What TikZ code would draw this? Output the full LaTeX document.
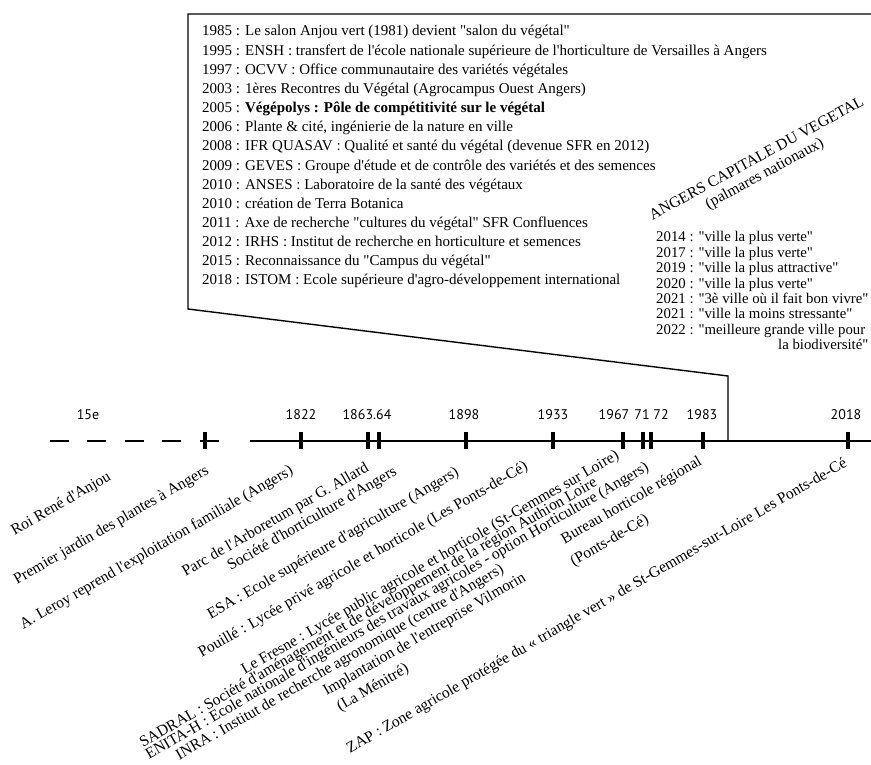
\documentclass[tikz,border=0pt]{standalone}
\usepackage{fontspec}
\setmainfont{Liberation Serif}[Ligatures=TeXOff]
\newfontfamily\yearfont{PT Sans}
\usetikzlibrary{positioning}

\begin{document}
\begin{tikzpicture}[x=1pt, y=-1pt,
    every node/.style = {inner sep=0pt},
    fact/.style = {rotate=30, anchor=east, font=\fontsize{15.6}{18}\selectfont},
    year/.style = {font=\yearfont\fontsize{14}{16}\selectfont},
    tick/.style = {line width=3.5pt},
    frame/.style = {line width=1.4pt}]
  \useasboundingbox (0,0) rectangle (871,765);

  % box of the recent events
  \draw[frame] (871,14) -- (188,14) -- (188,309) -- (728,376) -- (728,441);
  \node[anchor=base west] (events) at (202,36) {\fontsize{15}{19.15}\selectfont
    \begin{tabular}[t]{@{}l@{}}
    1985 : Le salon Anjou vert (1981) devient "salon du végétal"\\
    1995 : ENSH : transfert de l'école nationale supérieure de l'horticulture de Versailles à Angers\\
    1997 : OCVV : Office communautaire des variétés végétales\\
    2003 : 1ères Recontres du Végétal (Agrocampus Ouest Angers)\\
    2005 : \textbf{Végépolys : Pôle de compétitivité sur le végétal}\\
    2006 : Plante \& cité, ingénierie de la nature en ville\\
    2008 : IFR QUASAV : Qualité et santé du végétal (devenue SFR en 2012)\\
    2009 : GEVES : Groupe d'étude et de contrôle des variétés et des semences\\
    2010 : ANSES : Laboratoire de la santé des végétaux\\
    2010 : création de Terra Botanica\\
    2011 : Axe de recherche "cultures du végétal" SFR Confluences\\
    2012 : IRHS : Institut de recherche en horticulture et semences\\
    2015 : Reconnaissance du "Campus du végétal"\\
    2018 : ISTOM : Ecole supérieure d'agro-développement international
    \end{tabular}};

  % palmares
  \node[rotate=28.5, align=center, font=\fontsize{15.6}{17}\selectfont] (capitale) at (761,167)
    {ANGERS CAPITALE DU VEGETAL\\(palmares nationaux)};
  \node[anchor=base west] (palmares) at (656,242) {\fontsize{14.8}{15.4}\selectfont
    \begin{tabular}[t]{@{}l@{}}
    2014 : "ville la plus verte"\\
    2017 : "ville la plus verte"\\
    2019 : "ville la plus attractive"\\
    2020 : "ville la plus verte"\\
    2021 : "3è ville où il fait bon vivre"\\
    2021 : "ville la moins stressante"\\
    2022 : "meilleure grande ville pour\\
    \hfill la biodiversité"
    \end{tabular}};

  % time line
  \foreach \a in {50,87,125,162,200}
    \draw[frame] (\a,441) -- ++(19,0);
  \draw[frame] (250,441) -- (871,441);
  \foreach \t in {205,301,368,379,466,553,623,643,651,703,848}
    \draw[tick] (\t,432) -- (\t,449);

  \node[year] (y15) at (88,415) {15e};
  \node[year] (y1822) at (301,415) {1822};
  \node[year] (y1863) at (367,415) {1863.64};
  \node[year] (y1898) at (464,415) {1898};
  \node[year] (y1933) at (553,415) {1933};
  \node[year] (y1967) at (614,415) {1967};
  \node[year] (y1971) at (642,415) {71};
  \node[year] (y1972) at (661,415) {72};
  \node[year] (y1983) at (702,415) {1983};
  \node[year] (y2018) at (846,415) {2018};

  % events along the line
  \node[fact] (rene) at (110,476) {Roi René d'Anjou};
  \node[fact] (jardin) at (208,470) {Premier jardin des plantes à Angers};
  \node[fact] (leroy) at (292,470) {A. Leroy reprend l'exploitation familiale (Angers)};
  \node[fact] (arboretum) at (368,467) {Parc de l'Arboretum par G. Allard};
  \node[fact] (societe) at (396,471) {Société d'horticulture d'Angers};
  \node[fact] (esa) at (458,472) {ESA : Ecole supérieure d'agriculture (Angers)};
  \node[fact] (pouille) at (527,466) {Pouillé : Lycée privé agricole et horticole (Les Ponts-de-Cé)};
  \node[fact] (fresne) at (618,455) {Le Fresne : Lycée public agricole et horticole (St-Gemmes sur Loire)};
  \node[fact] (sadral) at (596,482) {SADRAL : Société d'aménagement et de développement de la région Authion Loire};
  \node[fact] (enita) at (648,467) {ENITA-H : Ecole nationale d'ingénieurs des travaux agricoles - option Horticulture (Angers)};
  \node[fact] (inra) at (503,569) {INRA : Institut de recherche agronomique (centre d'Angers)};
  \node[fact] (vilmorin) at (525,577) {Implantation de l'entreprise Vilmorin};
  \node[fact] (menitre) at (408,668) {(La Ménitré)};
  \node[fact] (bureau) at (701,461) {Bureau horticole régional};
  \node[fact] (ponts) at (648,519) {(Ponts-de-Cé)};
  \node[fact] (zap) at (846,463) {ZAP : Zone agricole protégée du « triangle vert » de St-Gemmes-sur-Loire Les Ponts-de-Cé};
\end{tikzpicture}
\end{document}
